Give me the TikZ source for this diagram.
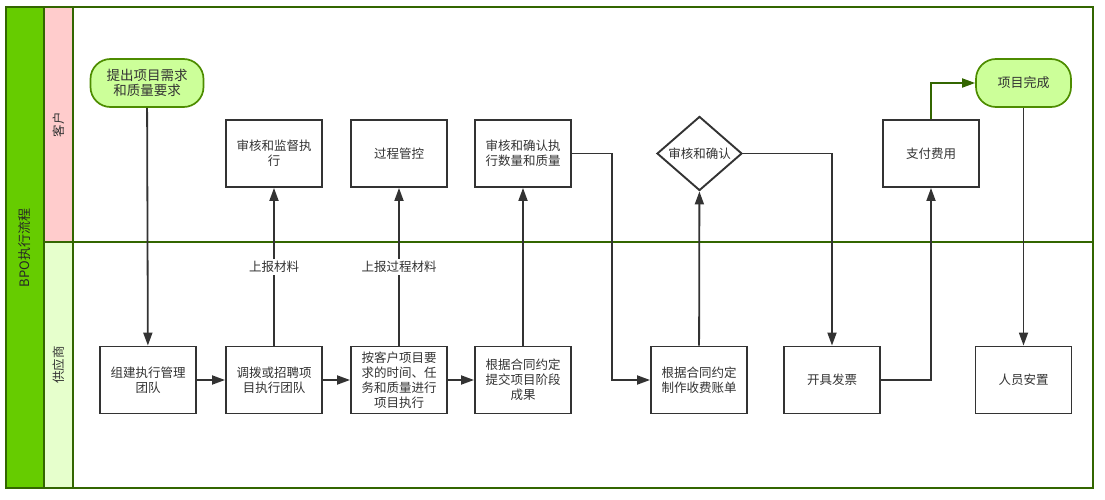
\documentclass[tikz,border=0pt]{standalone}
\usepackage{fontspec}
\setmainfont{Noto Sans CJK SC}
\usetikzlibrary{arrows.meta,shapes.geometric}
\definecolor{lanegreen}{HTML}{336600}
\definecolor{titlegreen}{HTML}{66CC00}
\definecolor{custpink}{HTML}{FFCCCC}
\definecolor{supplight}{HTML}{E6FFCC}
\definecolor{termfill}{HTML}{CCFF99}
\definecolor{termgreen}{HTML}{4D8C00}
\definecolor{linegray}{HTML}{333333}
\definecolor{textgray}{HTML}{333333}
\begin{document}
\begin{tikzpicture}[x=1pt,y=-1pt,
    font=\fontsize{12.5}{15}\selectfont, text=textgray,
    box/.style={draw=linegray, line width=1.9pt, fill=white, minimum width=96pt,
      minimum height=67pt, align=center, inner sep=2pt},
    term/.style={draw=termgreen, line width=1.7pt, fill=termfill, rounded corners=20pt,
      minimum width=113pt, minimum height=48pt, align=center},
    dec/.style={diamond, draw=linegray, line width=1.9pt, fill=white, minimum width=85pt,
      minimum height=67pt, inner sep=0pt, align=center},
    flow/.style={draw=linegray, line width=1.8pt, -{Triangle[length=13pt,width=9pt]}},
    note/.style={fill=white, inner sep=2pt, text=linegray}]
  \useasboundingbox (0,0) rectangle (1105,500);
  % plavecke drahy
  \fill[titlegreen] (6,7) rectangle (44,488);
  \fill[custpink] (44,7) rectangle (73,242);
  \fill[supplight] (44,242) rectangle (73,488);
  \draw[lanegreen, line width=1.5pt] (6,7) rectangle (1093,488);
  \draw[lanegreen, line width=1.5pt] (44,7) -- (44,488);
  \draw[lanegreen, line width=1.5pt] (73,7) -- (73,488);
  \draw[lanegreen, line width=1.5pt] (44,242) -- (1093,242);
  \node[rotate=90, text=black!85, font=\fontsize{13}{15}\selectfont] (title) at (25,248) {BPO执行流程};
  \node[rotate=90] (lanecust) at (58.5,125) {客户};
  \node[rotate=90] (lanesupp) at (58.5,365) {供应商};
  % kroky
  \node[term, font=\fontsize{13.5}{15.5}\selectfont] (start) at (147,83) {提出项目需求\\和质量要求};
  \node[box] (team) at (148,380) {组建执行管理\\团队};
  \node[box] (recruit) at (274,380) {调拨或招聘项\\目执行团队};
  \node[box] (supervise) at (274,153.5) {审核和监督执\\行};
  \node[box] (control) at (399,153.5) {过程管控};
  \node[box] (execute) at (399,380) {按客户项目要\\求的时间、任\\务和质量进行\\项目执行};
  \node[box] (confirm) at (523,153.5) {审核和确认执\\行数量和质量};
  \node[box] (submit) at (523,380) {根据合同约定\\提交项目阶段\\成果};
  \node[dec] (check) at (699.5,153.5) {审核和确认};
  \node[box] (bill) at (699,380) {根据合同约定\\制作收费账单};
  \node[box] (invoice) at (832,380) {开具发票};
  \node[box] (pay) at (931,153.5) {支付费用};
  \node[term, minimum width=95pt, font=\fontsize{13}{15}\selectfont] (finish) at (1023.5,83) {项目完成};
  \node[box] (settle) at (1023.5,380) {人员安置};
  % sipky
  \draw[flow] (start) -- (team);
  \draw[flow] (team) -- (recruit);
  \draw[flow] (recruit) -- (execute);
  \draw[flow] (execute) -- (submit);
  \draw[flow] (recruit) -- node[note] (report) {上报材料} (supervise);
  \draw[flow] (execute) -- node[note] (reportproc) {上报过程材料} (control);
  \draw[flow] (submit) -- (confirm);
  \draw[flow] (confirm.east) -- ++(40,0) |- (bill.west);
  \draw[flow] (bill) -- (check);
  \draw[flow] (check.east) -| (invoice.north);
  \draw[flow] (invoice.east) -| (pay.south);
  \draw[flow, draw=lanegreen, -{Triangle[length=13pt,width=9pt,fill=lanegreen]}] (pay.north) |- (finish.west);
  \draw[flow] (finish) -- (settle);
\end{tikzpicture}
\end{document}
